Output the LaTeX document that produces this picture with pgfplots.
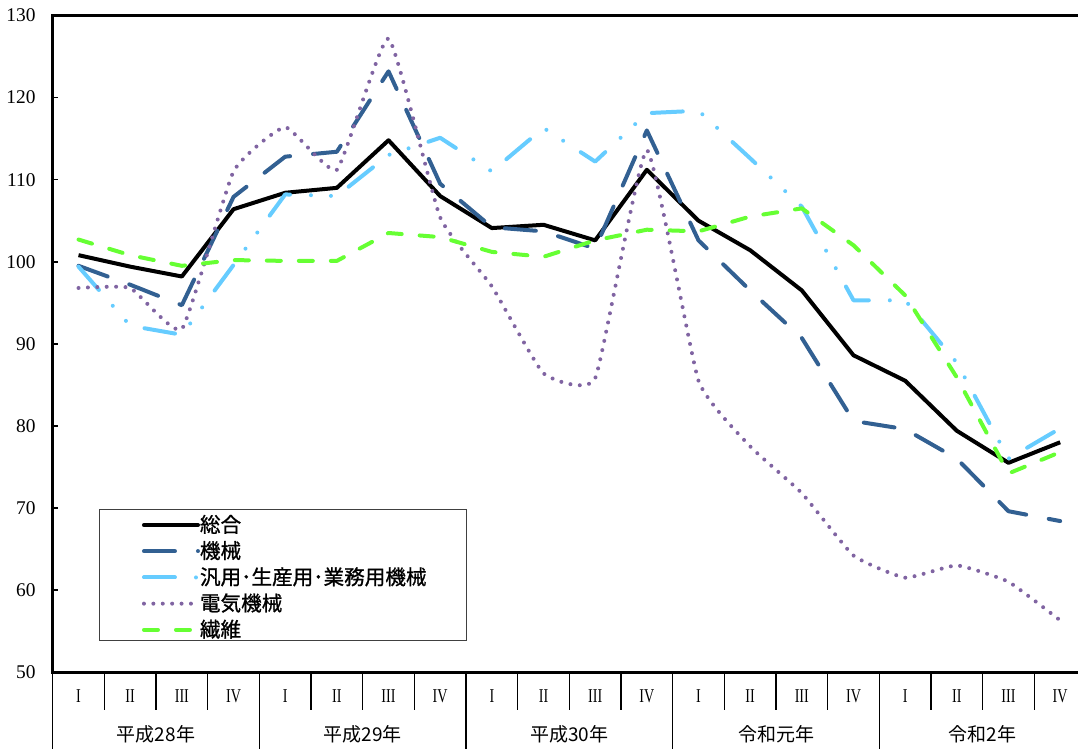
\documentclass[border=0pt]{standalone}
\usepackage{fontspec}
\setmainfont{Liberation Serif}
\newfontfamily\cjk{Noto Sans CJK JP}
\newfontfamily\cjkleg{Noto Sans CJK JP}[FakeBold=1]
\usepackage{graphicx}
\usepackage{pgfplots}
\pgfplotsset{compat=1.18}
\definecolor{cKikai}{RGB}{50,96,146}
\definecolor{cHanyo}{RGB}{102,204,255}
\definecolor{cDenki}{RGB}{128,100,162}
\definecolor{cSeni}{RGB}{102,255,51}
\newcommand{\RN}[1]{\scalebox{0.72}[1]{#1}}
\begin{document}
\begin{tikzpicture}
\begin{axis}[
  at={(0pt,0pt)}, anchor=south west,
  scale only axis, width=516.65pt, height=328.3pt,
  xmin=-0.5, xmax=19.5, ymin=50, ymax=130,
  clip mode=individual,
  axis line style={line width=1.5pt},
  tick pos=left,
  /pgf/number format/assume math mode=true,
  major tick length=2.5pt, tick align=inside,
  ytick={50,60,...,130},
  ytick style={line width=0.8pt, black},
  yticklabel style={font=\fontsize{9.7}{10}\selectfont, anchor=east, inner sep=0pt, xshift=-8.35pt},
  xtick={0,...,19},
  xticklabels={\RN{I},\RN{II},\RN{III},\RN{IV},\RN{I},\RN{II},\RN{III},\RN{IV},\RN{I},\RN{II},\RN{III},\RN{IV},\RN{I},\RN{II},\RN{III},\RN{IV},\RN{I},\RN{II},\RN{III},\RN{IV}},
  xtick style={draw=none},
  xticklabel style={font=\fontsize{9.8}{10}\selectfont, anchor=center, inner sep=0pt, yshift=-12.2pt},
  legend style={draw=none, fill=none, at={(axis description cs:0.086,0.2445)}, anchor=north west,
    inner sep=0pt, row sep=0pt, column sep=0pt,
    font=\cjkleg\fontsize{10.3}{12}\selectfont,
    nodes={inner xsep=0pt, inner ysep=0pt, minimum height=13.1pt}},
  legend cell align=left,
  legend image code/.code={\draw[#1, line cap=round] (0pt,0pt) -- (27pt,0pt);},
]
\addplot[black, line width=2pt, line join=round] coordinates {
(0,100.8) (1,99.4) (2,98.2) (3,106.4) (4,108.4) (5,109.0) (6,114.8) (7,108.0) (8,104.1) (9,104.5)
(10,102.6) (11,111.2) (12,105.0) (13,101.4) (14,96.5) (15,88.6) (16,85.5) (17,79.4) (18,75.5) (19,78.0)};
\addlegendentry{総合}
\addplot[cKikai, line width=2pt, line join=round, line cap=round, dash pattern=on 15.5pt off 11.5pt] coordinates {
(0,99.5) (1,97.2) (2,94.7) (3,107.9) (4,112.8) (5,113.4) (6,123.2) (7,109.5) (8,104.2) (9,103.7)
(10,101.6) (11,116.0) (12,102.6) (13,96.5) (14,90.7) (15,80.6) (16,79.6) (17,76.0) (18,69.6) (19,68.4)};
\addlegendentry{機械}
\addplot[cHanyo, line width=2pt, line join=round, line cap=round, dash pattern=on 15.5pt off 10.5pt on 0pt off 10pt on 0pt off 10.5pt] coordinates {
(0,99.4) (1,92.2) (2,91.1) (3,99.6) (4,108.2) (5,108.0) (6,113.0) (7,115.1) (8,111.0) (9,116.3)
(10,112.2) (11,118.1) (12,118.4) (13,112.6) (14,106.7) (15,95.3) (16,95.3) (17,87.7) (18,76.0) (19,79.7)};
\addlegendentry{汎用･生産用･業務用機械}
\addplot[cDenki, line width=2pt, line cap=round, dash pattern=on 0pt off 4.7pt, smooth, tension=0.25] coordinates {
(0,96.8) (1,96.8) (2,91.8) (3,111.0) (4,116.4) (5,111.2) (6,127.2) (7,105.4) (8,97.0) (9,86.4)
(10,85.8) (11,113.6) (12,85.5) (13,77.5) (14,71.8) (15,64.2) (16,61.5) (17,63.0) (18,61.0) (19,56.3)};
\addlegendentry{電気機械}
\addplot[cSeni, line width=2pt, line join=round, line cap=round, dash pattern=on 7pt off 9pt] coordinates {
(0,102.7) (1,100.8) (2,99.5) (3,100.2) (4,100.1) (5,100.1) (6,103.5) (7,103.0) (8,101.2) (9,100.6)
(10,102.6) (11,103.9) (12,103.7) (13,105.5) (14,106.5) (15,102.0) (16,95.9) (17,85.9) (18,74.2) (19,76.8)};
\addlegendentry{繊維}
\draw[line width=0.5pt, black!75] (axis description cs:0.04578,0.04768) rectangle (axis description cs:0.4000,0.2472);
\pgfplotsinvokeforeach{0.5,1.5,2.5,4.5,5.5,6.5,8.5,9.5,10.5,12.5,13.5,14.5,16.5,17.5,18.5}{
  \draw[line width=0.7pt, black] (axis cs:#1,50) -- ++(0pt,-18.85pt);
}
\pgfplotsinvokeforeach{-0.5,3.5,7.5,11.5,15.5,19.5}{
  \draw[line width=0.7pt, black] (axis cs:#1,50) -- ++(0pt,-38.35pt);
}
\node[font=\cjk\fontsize{9.5}{10}\selectfont, anchor=center, inner sep=0pt, yshift=-31pt] at (axis cs:1.5,50) {平成28年};
\node[font=\cjk\fontsize{9.5}{10}\selectfont, anchor=center, inner sep=0pt, yshift=-31pt] at (axis cs:5.5,50) {平成29年};
\node[font=\cjk\fontsize{9.5}{10}\selectfont, anchor=center, inner sep=0pt, yshift=-31pt] at (axis cs:9.5,50) {平成30年};
\node[font=\cjk\fontsize{9.5}{10}\selectfont, anchor=center, inner sep=0pt, yshift=-31pt] at (axis cs:13.5,50) {令和元年};
\node[font=\cjk\fontsize{9.5}{10}\selectfont, anchor=center, inner sep=0pt, yshift=-31pt] at (axis cs:17.5,50) {令和2年};
\end{axis}
\pgfresetboundingbox
\path (-26.35pt,-38.35pt) rectangle (512.65pt,336.05pt);
\end{tikzpicture}
\end{document}
